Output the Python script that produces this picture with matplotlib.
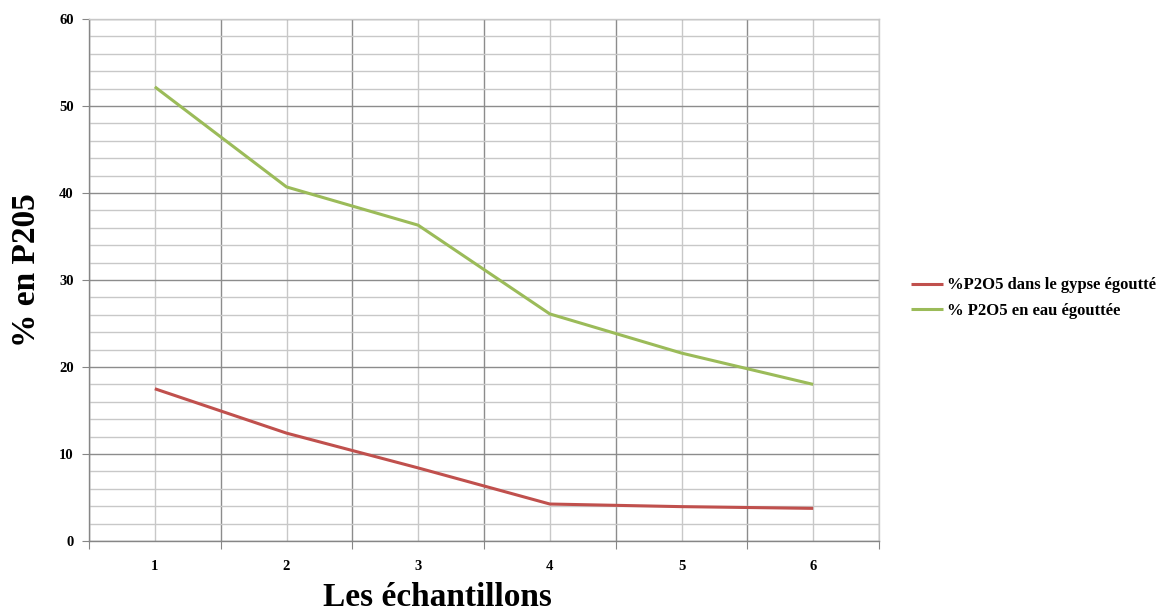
import matplotlib
matplotlib.use("Agg")
import matplotlib.pyplot as plt
from matplotlib.ticker import FixedLocator, MultipleLocator, NullFormatter, FixedFormatter

samples = [1, 2, 3, 4, 5, 6]
sample_labels = ["1", "2", "3", "4", "5", "6"]
gypse = [17.5, 12.4, 8.4, 4.25, 3.95, 3.75]
eau = [52.2, 40.7, 36.3, 26.1, 21.6, 18.0]
series_names = ["%P2O5 dans le gypse égoutté", "% P2O5 en eau égouttée"]

plt.rcParams['font.family'] = ['Liberation Serif', 'DejaVu Serif']
plt.rcParams['font.weight'] = 'bold'

W, H = 1163, 611
fig = plt.figure(figsize=(W / 100, H / 100), dpi=100)
ax = fig.add_axes([89/W, 1-541/H, (879-89)/W, (541-19)/H])

l1, = ax.plot(samples, gypse, color="#C0504D", lw=2.2, solid_capstyle='butt')
l2, = ax.plot(samples, eau, color="#9BBB59", lw=2.2, solid_capstyle='butt')

ax.set_xlim(0.5, 6.5)
ax.set_ylim(0, 60)

bounds = [i + 0.5 for i in range(0, 7)]
ax.xaxis.set_major_locator(FixedLocator(bounds))
ax.xaxis.set_major_formatter(NullFormatter())
ax.xaxis.set_minor_locator(FixedLocator(samples))
ax.xaxis.set_minor_formatter(FixedFormatter(sample_labels))
ax.tick_params(axis='x', which='major', direction='out', length=6, color='#868686')
ax.tick_params(axis='x', which='minor', length=0, pad=14, labelsize=10.5)

ax.yaxis.set_major_locator(MultipleLocator(10))
ax.yaxis.set_minor_locator(MultipleLocator(2))
ax.tick_params(axis='y', which='major', direction='out', length=5, color='#868686', labelsize=10.5, pad=6)
ax.tick_params(axis='y', which='minor', length=0)

ax.grid(which='major', color='#8c8c8c', lw=1.0)
ax.grid(which='minor', color='#c8c8c8', lw=1.0)
ax.set_axisbelow(True)

for s in ['left', 'bottom']:
    ax.spines[s].set_color('#868686')
    ax.spines[s].set_linewidth(1.0)
for s in ['top', 'right']:
    ax.spines[s].set_color('#c8c8c8')
    ax.spines[s].set_linewidth(1.0)

for lab in ax.get_xticklabels(minor=True) + ax.get_yticklabels():
    lab.set_fontweight('bold')

fig.text(27/W, 1-270/H, "% en P205", rotation=90, ha='center', va='center',
         fontsize=24, fontweight='bold')
fig.text(437/W, 1-606/H, "Les échantillons", ha='center', va='baseline',
         fontsize=24, fontweight='bold')

fig.legend([l1, l2], series_names, loc='center left', bbox_to_anchor=(896/W, 1-298/H),
           frameon=False, handlelength=1.9, handletextpad=0.25, labelspacing=0.55,
           prop={'weight': 'bold', 'size': 12})

fig.savefig("out.png", dpi=100)
